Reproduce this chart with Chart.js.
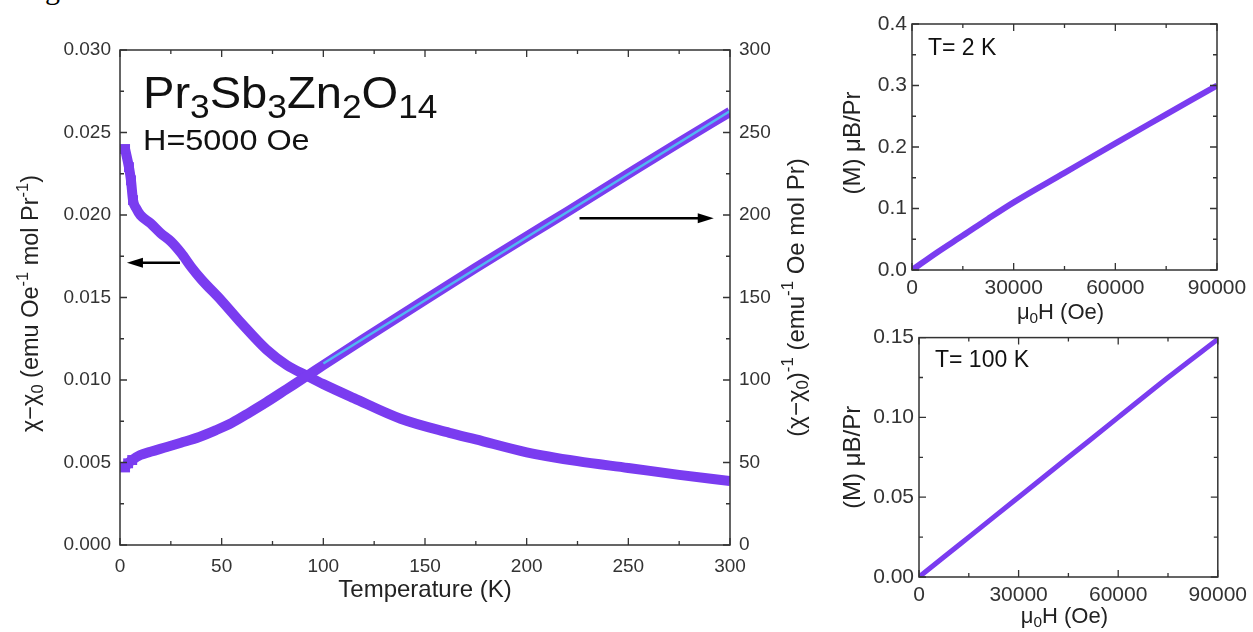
<!DOCTYPE html>
<html>
<head>
<meta charset="utf-8">
<script src="https://cdn.jsdelivr.net/npm/chart.js@4.4.1/dist/chart.umd.min.js"></script>
<style>
  html, body { margin: 0; padding: 0; background: #fff; }
  body { width: 1253px; height: 632px; position: relative; overflow: hidden; }
  canvas { position: absolute; }
  #fig { position: absolute; left: 20px; top: -28px; font: 30px "Liberation Serif", serif; color: #000; }
</style>
</head>
<body>
<div id="fig">Fig</div>
<canvas id="main" width="815" height="632" style="left:0;top:0"></canvas>
<canvas id="m2" width="438" height="330" style="left:815px;top:0"></canvas>
<canvas id="m100" width="438" height="312" style="left:815px;top:320px"></canvas>
<script>
// chi - chi0 vs T (left axis)
const chiT = [2.5, 4.4, 5.4, 6.4, 8, 10, 15, 20, 25, 30, 35, 40, 50, 60, 72, 82, 92, 100, 115, 138, 162, 175, 200, 225, 250, 275, 300];
const chiVal = [0.0240, 0.0229, 0.0221, 0.0209, 0.0204, 0.0200, 0.0195, 0.0189, 0.0184, 0.0177, 0.01685, 0.0161, 0.0148, 0.0134, 0.01185, 0.0109, 0.01025, 0.00975, 0.0089, 0.00765, 0.0068, 0.0064, 0.00562, 0.00508, 0.00467, 0.00425, 0.00388];

// (chi - chi0)^-1 vs T (right axis)
const invT = [2.5, 4, 6, 10, 15, 23, 30, 39, 47, 55, 64, 72, 82, 92, 100, 120, 148, 175, 200, 220, 250, 275, 300];
const invVal = [47, 49.5, 51.5, 54.5, 56.5, 59.4, 62, 65.5, 69.5, 74, 80.5, 86.5, 94.5, 102.5, 109, 125, 147, 168, 187, 202, 225, 244, 262.5];

// Curie-Weiss fit line
const fitT = [100, 300];
const fitVal = [110, 263];

// M(H) curves
const fieldH = [0, 7500, 15000, 22500, 30000, 45000, 60000, 75000, 90000];
const m2K = [0, 0.029, 0.056, 0.0835, 0.110, 0.158, 0.206, 0.253, 0.300];
const m100K = [0, 0.0125, 0.025, 0.0375, 0.050, 0.075, 0.100, 0.125, 0.149];

// tick labels
const tempTicks = [0, 50, 100, 150, 200, 250, 300];
const chiTicks = [0, 0.005, 0.010, 0.015, 0.020, 0.025, 0.030];
const invTicks = [0, 50, 100, 150, 200, 250, 300];
const fieldTicks = [0, 30000, 60000, 90000];
const m2Ticks = [0, 0.1, 0.2, 0.3, 0.4];
const m100Ticks = [0, 0.05, 0.10, 0.15];

// arrows (data coords): [axis, fromT, toT, value]
const arrows = [['y', 29.5, 3.4, 0.0171], ['y2', 226, 292, 198]];

const FONT = '"Liberation Sans", Arial, sans-serif';
const PURPLE = '#7a3cf0';
const FIT_BLUE = '#52b6f2';
const AXIS = '#333';
const INK = '#222';

const pts = (xs, ys) => xs.map((x, i) => ({ x: x, y: ys[i] }));
const setTicks = arr => s => { s.ticks = arr.map(v => ({ value: v })); };
// square markers only show as separate steps at the lowest temperatures
const lowTSquares = c => (c.raw && c.raw.x < 7 ? 7 : 0);

// text with sub/superscripts: parts = [[text, ''|'sub'|'sup'], ...]
function drawRich(ctx, parts, x, y, size, opt) {
  opt = opt || {};
  const small = opt.small || 0.7;
  ctx.save();
  ctx.translate(x, y);
  if (opt.rot) ctx.rotate(opt.rot);
  if (opt.sx) ctx.scale(opt.sx, 1);
  ctx.fillStyle = opt.color || INK;
  ctx.textAlign = 'left';
  ctx.textBaseline = opt.baseline || 'middle';
  const font = k => (k ? size * small : size) + 'px ' + FONT;
  let total = 0;
  const ws = parts.map(([t, k]) => { ctx.font = font(k); const w = ctx.measureText(t).width; total += w; return w; });
  let cx = opt.align === 'left' ? 0 : -total / 2;
  parts.forEach(([t, k], i) => {
    ctx.font = font(k);
    const dy = k === 'sub' ? size * (opt.subDrop || 0.28) : k === 'sup' ? -size * 0.38 : 0;
    ctx.fillText(t, cx, dy);
    cx += ws[i];
  });
  ctx.restore();
}

// box frame with inward major/minor ticks
function frameTicks(specs) {
  return {
    id: 'frameTicks',
    afterDatasetsDraw(chart) {
      const { ctx, chartArea: a } = chart;
      ctx.save();
      ctx.strokeStyle = AXIS;
      ctx.lineWidth = 1.5;
      ctx.strokeRect(a.left, a.top, a.right - a.left, a.bottom - a.top);
      ctx.lineWidth = 1.3;
      specs.forEach(([id, sides]) => {
        const s = chart.scales[id];
        const vals = s.ticks.map(t => t.value);
        const marks = [];
        vals.forEach((v, i) => {
          marks.push([v, 7]);
          if (i < vals.length - 1) marks.push([(v + vals[i + 1]) / 2, 4]);
        });
        ctx.beginPath();
        marks.forEach(([v, len]) => {
          const p = s.getPixelForValue(v);
          sides.forEach(side => {
            if (side === 'bottom') { ctx.moveTo(p, a.bottom); ctx.lineTo(p, a.bottom - len); }
            if (side === 'top') { ctx.moveTo(p, a.top); ctx.lineTo(p, a.top + len); }
            if (side === 'left') { ctx.moveTo(a.left, p); ctx.lineTo(a.left + len, p); }
            if (side === 'right') { ctx.moveTo(a.right, p); ctx.lineTo(a.right - len, p); }
          });
        });
        ctx.stroke();
      });
      ctx.restore();
    }
  };
}

function axisOpts(min, max, arr, fmt, size, pad, fit) {
  return {
    type: 'linear', min: min, max: max,
    grid: { display: false, drawTicks: false },
    border: { display: false },
    afterBuildTicks: setTicks(arr),
    afterFit: fit,
    ticks: { font: { family: FONT, size: size }, color: AXIS, padding: pad, maxRotation: 0, autoSkip: false, callback: fmt }
  };
}

// ---------- main chart ----------
const mainText = {
  id: 'mainText',
  afterDatasetsDraw(chart) {
    const ctx = chart.ctx;
    const x = chart.scales.x;
    ctx.save();
    ctx.strokeStyle = '#000';
    ctx.fillStyle = '#000';
    ctx.lineWidth = 2.5;
    arrows.forEach(([ax, t0, t1, v]) => {
      const y = chart.scales[ax].getPixelForValue(v);
      const x0 = x.getPixelForValue(t0), x1 = x.getPixelForValue(t1);
      const dir = Math.sign(x1 - x0);
      ctx.beginPath();
      ctx.moveTo(x0, y);
      ctx.lineTo(x1 - dir * 12, y);
      ctx.stroke();
      ctx.beginPath();
      ctx.moveTo(x1, y);
      ctx.lineTo(x1 - dir * 16, y - 5);
      ctx.lineTo(x1 - dir * 16, y + 5);
      ctx.closePath();
      ctx.fill();
    });
    ctx.restore();
  },
  afterDraw(chart) {
    const ctx = chart.ctx;
    const a = chart.chartArea;
    const cy = (a.top + a.bottom) / 2;
    drawRich(ctx, [['Pr', ''], ['3', 'sub'], ['Sb', ''], ['3', 'sub'], ['Zn', ''], ['2', 'sub'], ['O', ''], ['14', 'sub']],
      a.left + 23, 108, 44, { align: 'left', baseline: 'alphabetic', small: 0.75, subDrop: 0.23, color: '#111', sx: 1.07 });
    drawRich(ctx, [['H=5000 Oe', '']], a.left + 23, 150, 30, { align: 'left', baseline: 'alphabetic', color: '#111', sx: 1.08 });
    drawRich(ctx, [['Temperature (K)', '']], (a.left + a.right) / 2, 590, 24, {});
    drawRich(ctx, [['\u03c7\u2212\u03c7', ''], ['0', 'sub'], [' (emu Oe', ''], ['-1', 'sup'], [' mol Pr', ''], ['-1', 'sup'], [')', '']],
      32, cy + 6, 23.5, { rot: -Math.PI / 2 });
    drawRich(ctx, [['(\u03c7\u2212\u03c7', ''], ['0', 'sub'], [')', ''], ['-1', 'sup'], [' (emu', ''], ['-1', 'sup'], [' Oe mol Pr)', '']],
      797, cy, 24, { rot: -Math.PI / 2 });
  }
};

const bandStyle = {
  showLine: true, borderColor: PURPLE, borderWidth: 10, cubicInterpolationMode: 'monotone',
  pointStyle: 'rect', pointRadius: lowTSquares, pointBackgroundColor: PURPLE, pointBorderWidth: 0
};

new Chart(document.getElementById('main'), {
  type: 'scatter',
  data: {
    datasets: [
      { data: pts(fitT, fitVal), yAxisID: 'y2', showLine: true, borderColor: FIT_BLUE, borderWidth: 2.5, pointRadius: 0 },
      Object.assign({}, bandStyle, { data: pts(invT, invVal), yAxisID: 'y2' }),
      Object.assign({}, bandStyle, { data: pts(chiT, chiVal), yAxisID: 'y' })
    ]
  },
  options: {
    responsive: false,
    animation: false,
    layout: { padding: { top: 50, left: 0, right: 0, bottom: 0 } },
    plugins: { legend: { display: false }, tooltip: { enabled: false } },
    scales: {
      x: Object.assign(axisOpts(0, 300, tempTicks, v => String(v), 19, 10, s => { s.height = 87; }), { position: 'bottom' }),
      y: Object.assign(axisOpts(0, 0.03, chiTicks, v => v.toFixed(3), 19, 9, s => { s.width = 120; }), { position: 'left' }),
      y2: Object.assign(axisOpts(0, 300, invTicks, v => String(v), 19, 9, s => { s.width = 85; }), { position: 'right' })
    }
  },
  plugins: [frameTicks([['x', ['bottom', 'top']], ['y', ['left']], ['y2', ['right']]]), mainText]
});

// ---------- M(H) panels ----------
function makeMH(id, data, yMax, yTicks, yFmt, box, label) {
  const textPlugin = {
    id: 'mhText',
    afterDraw(chart) {
      const ctx = chart.ctx;
      const a = chart.chartArea;
      drawRich(ctx, [[label, '']], a.left + 16, box.labelY, 23, { align: 'left', baseline: 'alphabetic', color: '#111' });
      drawRich(ctx, [['(M) \u03bcB/Pr', '']], 38, (a.top + a.bottom) / 2 - box.yTitleShift, 24, { rot: -Math.PI / 2 });
      drawRich(ctx, [['\u03bc', ''], ['0', 'sub'], ['H (Oe)', '']], (a.left + a.right) / 2 - 4, box.xTitleY, 22, {});
    }
  };
  new Chart(document.getElementById(id), {
    type: 'scatter',
    data: {
      datasets: [
        { data: pts(fieldH, data), showLine: true, borderColor: PURPLE, borderWidth: box.lw, pointRadius: 0, cubicInterpolationMode: 'monotone' }
      ]
    },
    options: {
      responsive: false,
      animation: false,
      layout: { padding: { top: box.top, left: 0, right: box.right, bottom: 0 } },
      plugins: { legend: { display: false }, tooltip: { enabled: false } },
      scales: {
        x: Object.assign(axisOpts(0, 90000, fieldTicks, v => String(v), 21, 6, s => { s.height = box.xh; }), { position: 'bottom' }),
        y: Object.assign(axisOpts(0, yMax, yTicks, yFmt, 21, 5, s => { s.width = box.yw; }), { position: 'left' })
      }
    },
    plugins: [frameTicks([['x', ['bottom', 'top']], ['y', ['left', 'right']]]), textPlugin]
  });
}

makeMH('m2', m2K, 0.4, m2Ticks, v => v.toFixed(1),
  { top: 24, right: 36, xh: 60, yw: 97, lw: 6, labelY: 55, xTitleY: 313, yTitleShift: 4 }, 'T= 2 K');
makeMH('m100', m100K, 0.15, m100Ticks, v => v.toFixed(2),
  { top: 17, right: 33, xh: 55, yw: 104, lw: 5, labelY: 47, xTitleY: 297, yTitleShift: 0 }, 'T= 100 K');
</script>
</body>
</html>
